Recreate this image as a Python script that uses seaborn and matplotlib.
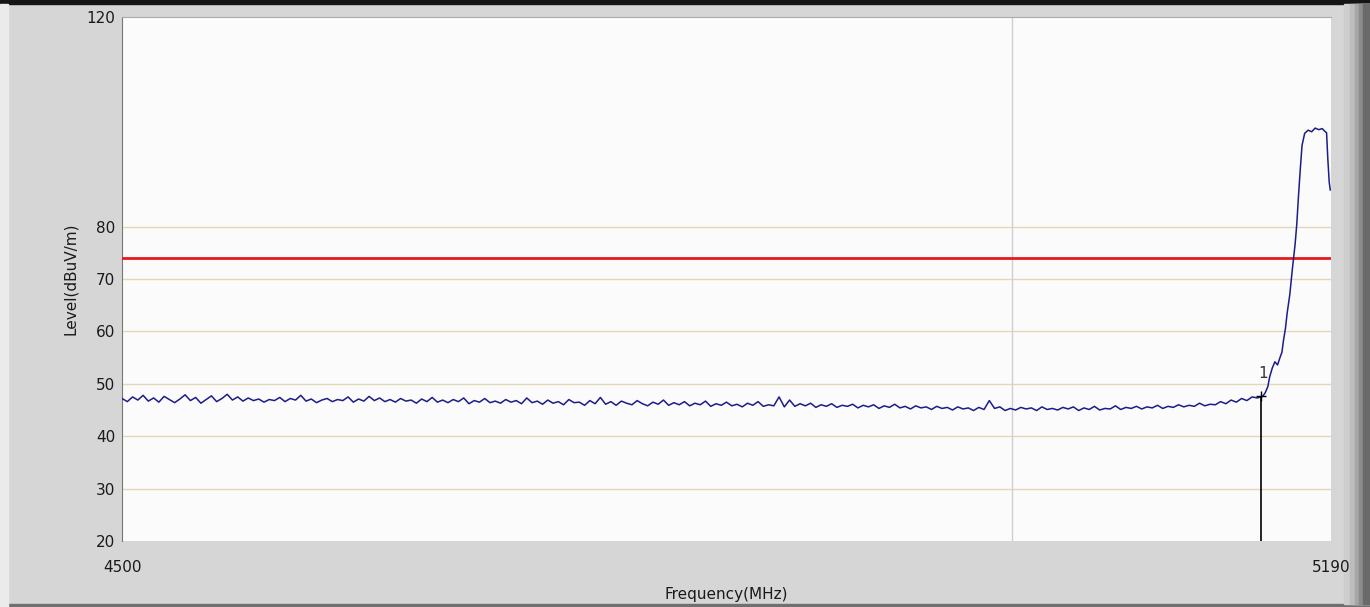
import numpy as np
import pandas as pd
import matplotlib.pyplot as plt
import matplotlib.patches as mpatches
import seaborn as sns

# Sweep 4500 - 5148 MHz, 3 MHz step, levels
level_baseline = [
    47.2, 46.6, 47.5, 46.9, 47.8, 46.7, 47.3, 46.5, 47.6, 47.0,
    46.4, 47.1, 47.9, 46.8, 47.4, 46.3, 47.0, 47.7, 46.6, 47.2,
    48.0, 46.9, 47.5, 46.7, 47.3, 46.8, 47.1, 46.5, 47.0, 46.8,
    47.4, 46.6, 47.2, 46.9, 47.8, 46.7, 47.1, 46.4, 46.9, 47.2,
    46.6, 47.0, 46.8, 47.5, 46.5, 47.1, 46.7, 47.6, 46.8, 47.3,
    46.6, 47.0, 46.5, 47.2, 46.7, 46.9, 46.3, 47.1, 46.6, 47.4,
    46.5, 46.9, 46.4, 47.0, 46.6, 47.3, 46.2, 46.8, 46.5, 47.2,
    46.4, 46.7, 46.3, 47.0, 46.5, 46.8, 46.2, 47.3, 46.4, 46.7,
    46.1, 46.9, 46.3, 46.6, 46.0, 47.0, 46.4, 46.5, 45.9, 46.8,
    46.2, 47.4, 46.1, 46.6, 45.9, 46.7, 46.3, 46.0, 46.8, 46.2,
    45.8, 46.5, 46.1, 46.9, 45.9, 46.4, 46.0, 46.6, 45.8, 46.3,
    46.0, 46.7, 45.7, 46.2, 45.9, 46.5, 45.8, 46.1, 45.6, 46.3,
    45.9, 46.6, 45.7, 46.0, 45.8, 47.5, 45.6, 46.9, 45.7, 46.2,
    45.8, 46.3, 45.5, 46.0, 45.7, 46.2, 45.5, 45.9, 45.7, 46.1,
    45.4, 45.9, 45.6, 46.0, 45.3, 45.8, 45.5, 46.1, 45.4, 45.7,
    45.2, 45.8, 45.4, 45.6, 45.1, 45.7, 45.3, 45.5, 45.0, 45.6,
    45.2, 45.4, 44.9, 45.5, 45.1, 46.8, 45.3, 45.6, 44.9, 45.3,
    45.0, 45.5, 45.2, 45.4, 44.9, 45.6, 45.1, 45.3, 45.0, 45.5,
    45.2, 45.6, 44.9, 45.4, 45.1, 45.7, 45.0, 45.3, 45.2, 45.8,
    45.1, 45.5, 45.3, 45.7, 45.2, 45.6, 45.4, 45.9, 45.3, 45.7,
    45.5, 46.0, 45.6, 45.9, 45.7, 46.3, 45.8, 46.1, 46.0, 46.6,
    46.2, 46.9, 46.5, 47.2, 46.8, 47.5, 47.3,
]
freq_baseline = np.linspace(4500, 5148, len(level_baseline))

# band edge rise and carrier
freq_rise = [5151, 5152.5, 5154, 5155, 5156.5, 5158, 5159.5, 5161, 5162, 5163,
             5164, 5165, 5166.5, 5168, 5169.5, 5170.5, 5171.5, 5172.5, 5173.5, 5175,
             5177, 5179, 5181, 5183, 5185, 5186.5, 5187.5, 5188.2, 5189, 5189.6]
level_rise = [47.6, 48.3, 49.5, 51.3, 53.0, 54.2, 53.6, 55.1, 56.0, 58.5,
              60.5, 63.5, 67.0, 72.0, 76.5, 80.5, 86.0, 91.0, 95.5, 97.8,
              98.4, 98.1, 98.8, 98.5, 98.7, 98.2, 97.9, 93.0, 88.5, 87.0]

limit_level = 74
marker_freq = 5150
marker_level = 47.6
vgrid_freq = 5008
y_ticks = [20, 30, 40, 50, 60, 70, 80, 120]
grid_levels = [30, 40, 50, 60, 70, 80]

df = pd.DataFrame({
    'freq': list(freq_baseline) + freq_rise,
    'level': level_baseline + level_rise,
})

fig = plt.figure(figsize=(13.7, 6.07), dpi=100, facecolor='#d6d6d6')

# window frame decoration (behind everything)
def frame(x, y, w, h, c):
    fig.patches.append(mpatches.Rectangle((x / 1370, y / 607), w / 1370, h / 607,
                                          transform=fig.transFigure, color=c, zorder=-5))

frame(0, 603, 1370, 4, '#151515')
frame(0, 0, 1370, 3, '#707070')
frame(0, 0, 8, 603, '#ebebeb')
for x0, c in [(1344, '#cdcdcd'), (1350, '#bcbcbc'), (1355, '#a6a6a6'), (1359, '#8c8c8c'), (1363, '#6a6a6a')]:
    frame(x0, 3, 1370 - x0, 600, c)

ax = fig.add_axes([0.0891, 0.1087, 0.8824, 0.8633])
ax.set_zorder(2)
ax.set_facecolor('#fbfbfb')

for g in grid_levels:
    ax.axhline(g, color='#e2d8b8', lw=1, zorder=1)
ax.axvline(vgrid_freq, color='#cfcfcf', lw=1, zorder=1)

ax.axhline(limit_level, color='#e8191c', lw=2, zorder=3)

sns.lineplot(data=df, x='freq', y='level', ax=ax, color='#1c1c8a', lw=1.1, zorder=4,
             estimator=None, sort=False)

ax.vlines(marker_freq, 20, marker_level, color='black', lw=1.2, zorder=5)
ax.plot([marker_freq], [marker_level], marker='+', color='black', ms=7, mew=1, zorder=6)
ax.text(marker_freq + 1, 52, '1', ha='center', va='center', fontsize=11, color='#333333', zorder=6)

ax.set_xlim(4500, 5190)
ax.set_ylim(20, 120)
ax.set_xticks([4500, 5190])
ax.set_xticklabels(['4500', '5190'])
ax.set_yticks(y_ticks)
ax.tick_params(axis='both', length=0, labelsize=11, colors='#1a1a1a')
ax.tick_params(axis='x', pad=14)
ax.tick_params(axis='y', pad=5)

for s in ['bottom', 'right']:
    ax.spines[s].set_visible(False)
ax.spines['left'].set_color('#777777')
ax.spines['top'].set_color('#aaaaaa')

ax.set_xlabel('Frequency(MHz)', fontsize=11, color='#1a1a1a', labelpad=8)
ax.set_ylabel('Level(dBuV/m)', fontsize=11, color='#1a1a1a', labelpad=6)

fig.savefig('out.png', dpi=100, facecolor=fig.get_facecolor())
